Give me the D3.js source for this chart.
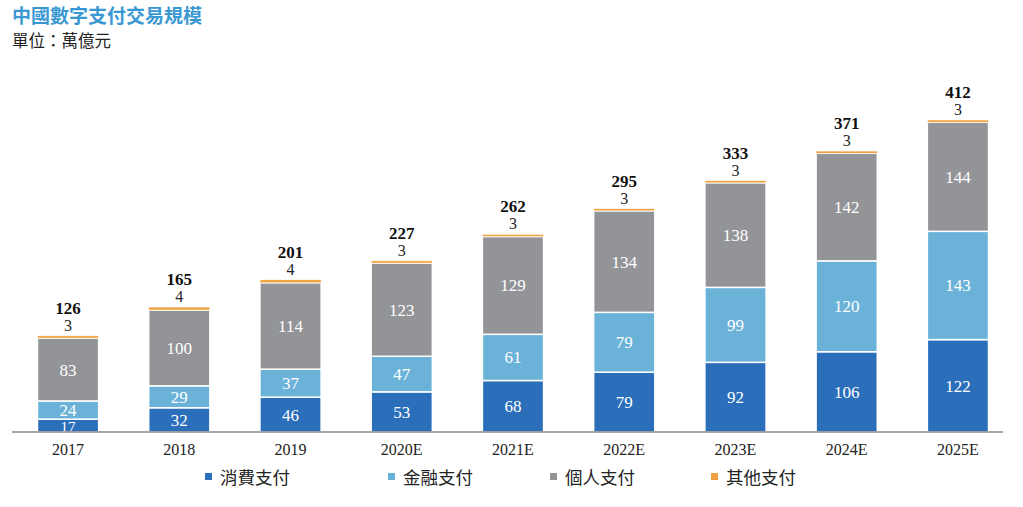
<!DOCTYPE html>
<html>
<head>
<meta charset="utf-8">
<script src="https://cdn.jsdelivr.net/npm/d3@7"></script>
<style>
  body { margin: 0; background: #fff; }
  svg { display: block; }
</style>
</head>
<body>
<div id="chart"></div>
<script>
var years = ["2017", "2018", "2019", "2020E", "2021E", "2022E", "2023E", "2024E", "2025E"];
var consumer = [17, 32, 46, 53, 68, 79, 92, 106, 122];
var finance = [24, 29, 37, 47, 61, 79, 99, 120, 143];
var personal = [83, 100, 114, 123, 129, 134, 138, 142, 144];
var other = [3, 4, 4, 3, 3, 3, 3, 3, 3];
var totals = [126, 165, 201, 227, 262, 295, 333, 371, 412];
var seriesNames = ["消費支付", "金融支付", "個人支付", "其他支付"];
var colors = ["#2b6fba", "#6bb2d8", "#939497", "#f0a03c"];

var width = 1023, height = 507;
var svg = d3.select("#chart").append("svg")
    .attr("width", width)
    .attr("height", height);

var serif = "'Liberation Serif', 'Times New Roman', serif";
var cjk = "'Noto Sans CJK TC', 'Noto Sans CJK SC', sans-serif";

// title
svg.append("text")
    .attr("x", 12).attr("y", 23)
    .attr("font-family", cjk)
    .attr("font-size", 19)
    .attr("font-weight", "bold")
    .attr("fill", "#3a98d2")
    .text("中國數字支付交易規模");
svg.append("text")
    .attr("x", 12).attr("y", 47)
    .attr("font-family", cjk)
    .attr("font-size", 16.5)
    .attr("fill", "#222")
    .text("單位：萬億元");

var x = d3.scaleBand()
    .domain(years)
    .range([13, 1013])
    .paddingInner(0.45)
    .paddingOuter(0.22);

var y = d3.scaleLinear()
    .domain([0, 412])
    .range([432, 120]);

var rows = years.map(function(yr, i) {
    return { year: yr, s0: consumer[i], s1: finance[i], s2: personal[i], s3: other[i], total: totals[i] };
});
var stack = d3.stack().keys(["s0", "s1", "s2", "s3"]);
var layers = stack(rows);

var g = svg.append("g");
layers.forEach(function(layer, li) {
    g.selectAll(".seg" + li)
        .data(layer)
        .enter()
        .append("rect")
        .attr("x", function(d) { return x(d.data.year); })
        .attr("y", function(d) { return y(d[1]); })
        .attr("width", x.bandwidth())
        .attr("height", function(d) { return y(d[0]) - y(d[1]); })
        .attr("fill", colors[li])
        .attr("stroke", "#fff")
        .attr("stroke-width", li == 3 ? 0.6 : 1.5);
});

// inside labels
layers.slice(0, 3).forEach(function(layer) {
    g.selectAll(null)
        .data(layer)
        .enter()
        .append("text")
        .attr("x", function(d) { return x(d.data.year) + x.bandwidth() / 2; })
        .attr("y", function(d) { return (y(d[0]) + y(d[1])) / 2 + 6; })
        .attr("text-anchor", "middle")
        .attr("font-family", serif)
        .attr("font-size", function(d) { return (d[1] - d[0]) < 20 ? 15 : 17; })
        .attr("fill", "#fff")
        .text(function(d) { return d[1] - d[0]; });
});

// "other" labels and totals above bars
g.selectAll(".olab")
    .data(layers[3])
    .enter()
    .append("text")
    .attr("x", function(d) { return x(d.data.year) + x.bandwidth() / 2; })
    .attr("y", function(d) { return y(d[1]) - 5; })
    .attr("text-anchor", "middle")
    .attr("font-family", serif)
    .attr("font-size", 16)
    .attr("fill", "#222")
    .text(function(d) { return d.data.s3; });

g.selectAll(".tlab")
    .data(rows)
    .enter()
    .append("text")
    .attr("x", function(d) { return x(d.year) + x.bandwidth() / 2; })
    .attr("y", function(d, i) { return y(layers[3][i][1]) - 22; })
    .attr("text-anchor", "middle")
    .attr("font-family", serif)
    .attr("font-size", 17)
    .attr("font-weight", "bold")
    .attr("fill", "#111")
    .text(function(d) { return d.total; });

// x axis
var axis = svg.append("g")
    .attr("transform", "translate(0,432)")
    .call(d3.axisBottom(x).tickSize(0).tickPadding(12));
axis.select(".domain").attr("stroke", "#8a8a8a").attr("stroke-width", 1.5)
    .attr("d", "M12,0H1003");
axis.selectAll("text")
    .attr("font-family", serif)
    .attr("font-size", 16)
    .attr("fill", "#222");

// legend
var legendX = [205, 388, 550, 711];
var legend = svg.selectAll(".leg")
    .data(seriesNames)
    .enter()
    .append("g")
    .attr("transform", function(d, i) { return "translate(" + legendX[i] + ",477)"; });
legend.append("rect")
    .attr("x", 0).attr("y", -4)
    .attr("width", 7).attr("height", 7)
    .attr("fill", function(d, i) { return colors[i]; });
legend.append("text")
    .attr("x", 15).attr("y", 6.5)
    .attr("font-family", cjk)
    .attr("font-size", 17.5)
    .attr("fill", "#222")
    .text(function(d) { return d; });
</script>
</body>
</html>
